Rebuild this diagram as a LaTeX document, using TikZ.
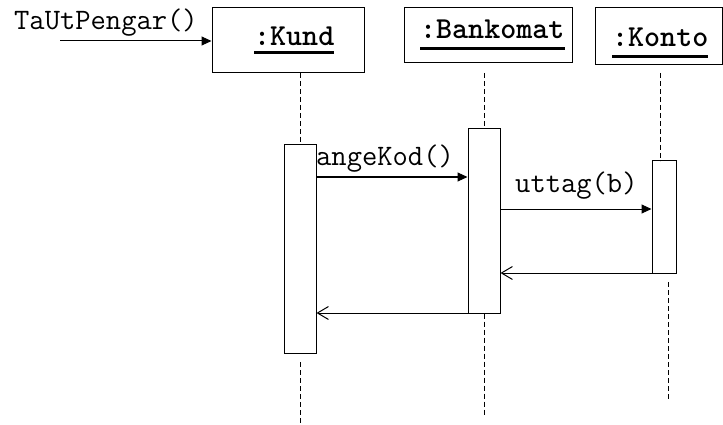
\documentclass[tikz,border=0pt]{standalone}
\usetikzlibrary{arrows.meta,calc}
\begin{document}
\begin{tikzpicture}[x=1pt,y=-1pt,
  lbl/.style={font=\ttfamily\fontsize{29.7}{31}\selectfont, inner sep=0pt, anchor=base west},
  hdlbl/.style={font=\ttfamily\bfseries\fontsize{30.5}{32}\selectfont, inner sep=0pt, anchor=base west},
  headbox/.style={draw, line width=1pt, rectangle, inner sep=0pt},
  actbox/.style={draw, line width=1pt, fill=white, rectangle, inner sep=0pt},
  lifeline/.style={line width=1pt, dash pattern=on 5pt off 3pt},
  call/.style={line width=1pt, -{Triangle[length=10pt,width=9pt]}},
  ret/.style={line width=1pt, -{Straight Barb[length=11pt,width=13pt]}},
  uline/.style={line width=2.6pt}
]
\useasboundingbox (0,0) rectangle (723,425);

% heads
\node[headbox, minimum width=152pt, minimum height=65pt] (kund) at (288,40.5) {};
\node[headbox, minimum width=168pt, minimum height=55pt] (bank) at (488,35.5) {};
\node[headbox, minimum width=127pt, minimum height=57pt] (konto) at (658.5,36.5) {};

\node[hdlbl] (kundl) at (254,46) {:Kund};
\node[hdlbl] (bankl) at (420,39) {:Bankomat};
\node[hdlbl] (kontol) at (612,46.5) {:Konto};
\draw[uline] (kundl.base west |- 0,52.5) -- (kundl.base east |- 0,52.5);
\draw[uline] (bankl.base west |- 0,48.5) -- (bankl.base east |- 0,48.5);
\draw[uline] (kontol.base west |- 0,56.5) -- (kontol.base east |- 0,56.5);

% activation boxes
\node[actbox, minimum width=32pt, minimum height=208pt] (kact) at (300,249) {};
\node[actbox, minimum width=32pt, minimum height=184pt] (bact) at (484,221) {};
\node[actbox, minimum width=24pt, minimum height=112pt] (cact) at (664,217) {};

% lifelines
\coordinate (kend) at (300,425);
\coordinate (bend) at (484,417);
\coordinate (cstart) at (668,282);
\coordinate (cend) at (668,400);
\draw[lifeline] (300,73) -- (kact.north);
\draw[lifeline] (300,362) -- (kend);
\draw[lifeline] (484,73) -- (bact.north);
\draw[lifeline] (bact.south) -- (bend);
\draw[lifeline] (660,73) -- (660,161);
\draw[lifeline] (cstart) -- (cend);

% messages
\coordinate (start) at (60,41);
\draw[call] (start) -- (kund.west |- start);
\node[lbl] (m0) at (14,30) {TaUtPengar()};

\draw[call] (kact.east |- 0,177) -- (bact.west |- 0,177);
\node[lbl] (m1) at (316,165) {angeKod()};

\draw[call] (bact.east |- 0,209) -- (cact.west |- 0,209);
\node[lbl] (m2) at (515,193) {uttag(b)};

\draw[ret] (cact.west |- 0,273) -- (bact.east |- 0,273);
\draw[ret] (bact.west |- 0,313) -- (kact.east |- 0,313);
\end{tikzpicture}
\end{document}
